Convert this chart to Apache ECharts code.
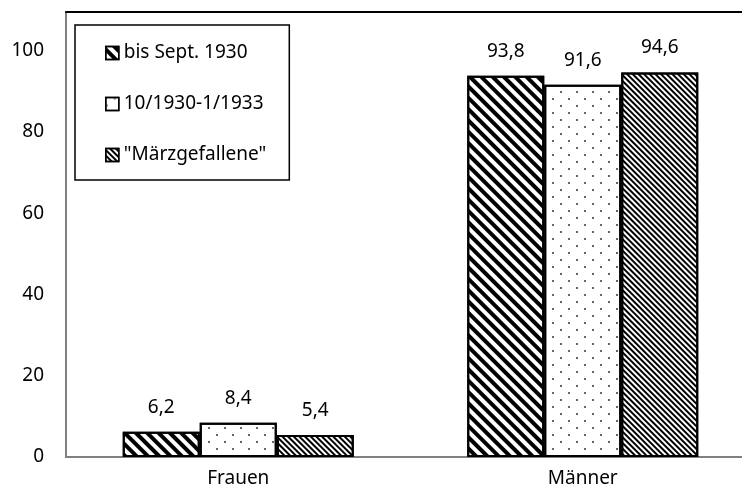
<!DOCTYPE html>
<html>
<head>
<meta charset="UTF-8">
<title>chart</title>
<style>
  html, body { margin: 0; padding: 0; background: #fff; }
  #myChart { width: 742px; height: 498px; }
</style>
</head>
<body>
<div id="myChart"></div>
<script src="https://cdn.jsdelivr.net/npm/echarts@6/dist/echarts.min.js"></script>
<script>
var categories = ['Frauen', 'Männer'];
var seriesNames = ['bis Sept. 1930', '10/1930-1/1933', '"Märzgefallene"'];
var valBisSept = [6.2, 93.8];
var valBis1933 = [8.4, 91.6];
var valMaerz = [5.4, 94.6];
var yTicks = [0, 20, 40, 60, 80, 100];

var font = 'Noto Sans';

// Schraffuren
var wideStripes = {
    symbol: 'rect', symbolSize: 1, color: '#000',
    dashArrayX: [1, 0], dashArrayY: [4, 4], rotation: Math.PI / 4
};
var dots = {
    symbol: 'rect', symbolSize: 1, color: '#666',
    dashArrayX: [[1.5, 13.5], [0, 7.5, 1.5, 6]], dashArrayY: [1.5, 4.5]
};
var fineStripes = {
    symbol: 'rect', symbolSize: 1, color: '#000',
    dashArrayX: [1, 0], dashArrayY: [1.8, 1.8], rotation: Math.PI / 4
};

function bar(name, data, decal) {
    return {
        name: name,
        type: 'bar',
        data: data,
        barWidth: 77,
        barGap: '0%',
        itemStyle: { color: '#fff', borderColor: '#000', borderWidth: 2, decal: decal },
        label: {
            show: true, position: 'top', distance: 15,
            fontFamily: font, fontSize: 19, color: '#000',
            formatter: function (p) { return String(p.value).replace('.', ','); }
        }
    };
}

var myChart = echarts.init(document.getElementById('myChart'));
var option = {
    animation: false,
    grid: { left: 66, width: 689, top: 12, bottom: 41, outerBoundsMode: 'none', containLabel: false },
    legend: {
        orient: 'vertical',
        left: 75, top: 25,
        padding: [18, 23, 15, 30],
        borderColor: '#000', borderWidth: 1.5,
        itemWidth: 13, itemHeight: 13, itemGap: 31,
        icon: 'rect',
        itemStyle: { borderColor: '#000', borderWidth: 1.5 },
        textStyle: { fontFamily: font, fontSize: 19, color: '#000', lineHeight: 20 },
        data: seriesNames
    },
    xAxis: [{
        type: 'category',
        data: categories,
        axisLine: { lineStyle: { color: '#808080', width: 2 } },
        axisTick: { show: false },
        axisLabel: { fontFamily: font, fontSize: 19, color: '#000', margin: 12 }
    }, {
        type: 'category',
        position: 'top',
        data: categories,
        axisLine: { lineStyle: { color: '#000', width: 2 } },
        axisTick: { show: false },
        axisLabel: { show: false }
    }],
    yAxis: {
        type: 'value',
        min: 0, max: 109.5, interval: 20,
        axisLine: { show: true, lineStyle: { color: '#808080', width: 2 } },
        axisTick: { show: false },
        splitLine: { show: false },
        axisLabel: {
            fontFamily: font, fontSize: 19, color: '#000', margin: 22,
            formatter: function (v) { return yTicks.indexOf(v) >= 0 ? String(v) : ''; }
        }
    },
    series: [
        bar(seriesNames[0], valBisSept, wideStripes),
        bar(seriesNames[1], valBis1933, dots),
        bar(seriesNames[2], valMaerz, fineStripes)
    ]
};
myChart.setOption(option);
</script>
</body>
</html>
